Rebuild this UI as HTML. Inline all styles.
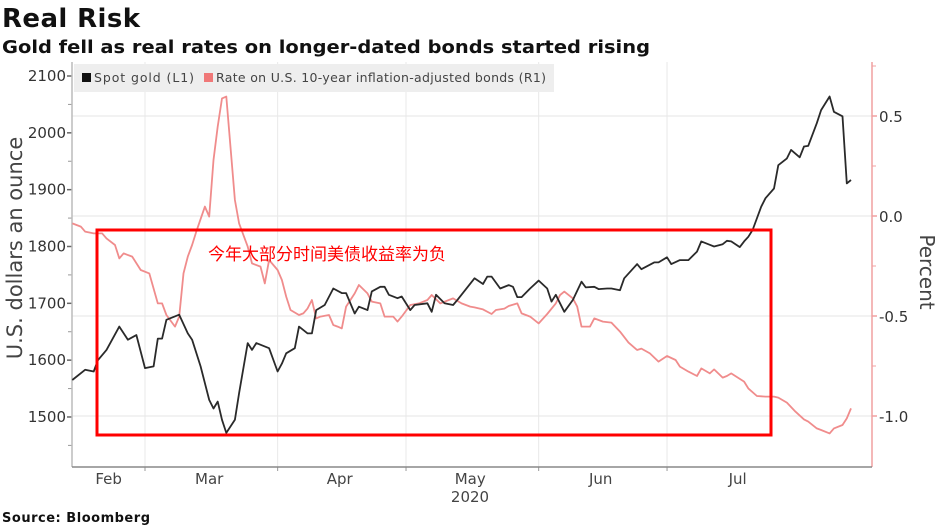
<!DOCTYPE html>
<html><head><meta charset="utf-8">
<style>
body{margin:0;background:#fff;}
svg{display:block;font-family:"DejaVu Sans","Noto Sans CJK SC",sans-serif;}
</style></head>
<body>
<svg id="chart" width="938" height="526" viewBox="0 0 938 526">
<text x="2" y="27" font-size="26" font-weight="bold" fill="#111" textLength="138">Real Risk</text>
<text x="2" y="53" font-size="18" font-weight="bold" fill="#111" textLength="648" lengthAdjust="spacingAndGlyphs">Gold fell as real rates on longer-dated bonds started rising</text>
<g id="grid"></g>
<g id="axes"></g>
<g>
<rect x="74" y="64" width="480" height="28" fill="#eeeeee"/>
<rect x="82" y="73" width="9" height="9" fill="#111"/>
<text x="94" y="82" font-size="12.5" fill="#444" textLength="100">Spot gold (L1)</text>
<rect x="204" y="73" width="9" height="9" fill="#f07878"/>
<text x="216" y="82" font-size="12.5" fill="#444" textLength="330">Rate on U.S. 10-year inflation-adjusted bonds (R1)</text>
</g>
<g id="series"></g>
<rect x="97" y="230" width="674" height="205" fill="none" stroke="#ff0000" stroke-width="3"/>
<text x="208" y="260" font-size="17" fill="#ff0000" font-family="Noto Sans CJK SC, sans-serif">今年大部分时间美债收益率为负</text>
<text transform="translate(22,248) rotate(-90)" text-anchor="middle" font-size="21" fill="#444">U.S. dollars an ounce</text>
<text transform="translate(920,272) rotate(90)" text-anchor="middle" font-size="20" fill="#444">Percent</text>
<text x="470" y="502" text-anchor="middle" font-size="15" fill="#444">2020</text>
<text x="2" y="522" font-size="13" font-weight="bold" fill="#111" textLength="148">Source: Bloomberg</text>
</svg>
<script>
const goldDays=[43,46,48,49,51,54,56,58,60,62,63,64,65,68,70,71,73,75,76,77,78,79,81,82,84,85,86,89,91,92,93,95,96,98,99,100,102,104,106,107,109,110,112,113,115,116,117,119,120,122,123,126,127,128,130,132,133,
137,139,140,141,143,145,146,147,148,150,152,154,155,156,158,160,162,163,165,166,168,169,171,172,175,176,179,180,182,183,185,187,189,190,192,193,195,196,197,199,200,201,202,204,205,207,208,210,211,213,214,215,217,218,220,221,223,224,225];
const goldValues=[1565,1583,1580,1600,1618,1659,1636,1644,1586,1589,1638,1638,1671,1680,1647,1636,1589,1530,1515,1527,1495,1472,1495,1542,1630,1618,1630,1621,1580,1594,1612,1621,1659,1647,1647,1688,1697,1726,1718,1718,1682,1694,1688,1721,1729,1729,1715,1709,1712,1688,1697,1700,1685,1715,1700,1697,1706,
1744,1734,1747,1747,1726,1732,1729,1711,1711,1726,1740,1726,1703,1715,1685,1706,1738,1728,1729,1725,1726,1726,1723,1744,1769,1760,1772,1772,1781,1769,1776,1776,1791,1809,1803,1800,1804,1810,1809,1799,1809,1817,1829,1870,1885,1902,1943,1955,1970,1957,1976,1977,2017,2040,2064,2037,2029,1911,1917];
const rateDays=[43,45,46,48,50,51,53,54,55,57,59,61,63,64,65,67,68,69,70,71,72,74,75,76,77,78,79,81,82,84,85,87,88,89,91,92,93,94,96,97,98,99,100,101,103,104,105,106,107,109,110,112,113,115,116,118,119,120,122,124,126,127,129,131,132,134,136,
137,139,141,142,144,145,147,148,150,152,154,156,157,158,160,161,162,164,165,167,169,171,173,175,176,178,180,182,184,185,187,189,190,192,193,195,196,197,200,201,203,205,207,208,210,212,214,215,217,218,220,221,223,224,225];
const rateValues=[-0.037,-0.053,-0.078,-0.087,-0.087,-0.112,-0.145,-0.212,-0.187,-0.203,-0.27,-0.287,-0.437,-0.437,-0.495,-0.553,-0.503,-0.287,-0.203,-0.145,-0.078,0.047,-0.003,0.28,0.447,0.588,0.597,0.08,-0.037,-0.153,-0.237,-0.253,-0.337,-0.22,-0.27,-0.32,-0.403,-0.47,-0.495,-0.487,-0.462,-0.42,-0.512,-0.503,-0.495,-0.545,-0.553,-0.562,-0.453,-0.387,-0.345,-0.387,-0.428,-0.437,-0.503,-0.503,-0.528,-0.503,-0.445,-0.437,-0.42,-0.395,-0.437,-0.42,-0.412,-0.437,-0.453,
-0.457,-0.467,-0.49,-0.47,-0.463,-0.45,-0.437,-0.487,-0.503,-0.537,-0.49,-0.437,-0.395,-0.378,-0.412,-0.453,-0.553,-0.553,-0.512,-0.528,-0.533,-0.578,-0.633,-0.67,-0.663,-0.687,-0.728,-0.7,-0.72,-0.753,-0.778,-0.8,-0.762,-0.787,-0.767,-0.808,-0.8,-0.787,-0.828,-0.862,-0.9,-0.903,-0.903,-0.908,-0.933,-0.978,-1.017,-1.028,-1.062,-1.07,-1.087,-1.062,-1.045,-1.012,-0.962];
const goldTicks=[1500,1600,1700,1800,1900,2000,2100];
const rateTicks=[-1.0,-0.5,0.0,0.5];
const rateTickLabels=["-1.0","-0.5","0.0","0.5"];
const monthStarts=[60,91,121,152,182];
const monthLabels=["Feb","Mar","Apr","May","Jun","Jul"];
const monthLabelDays=[51.5,75,105.5,136,166.5,198.5];

const NS="http://www.w3.org/2000/svg";
const L=72,R=872,T=62,B=467;
const xS=d=>145+(d-60)*4.279;
const yG=v=>76+(2100-v)*0.5683;
const yR=v=>216-v*200;
function mk(tag,attrs,parent){const e=document.createElementNS(NS,tag);for(const k in attrs)e.setAttribute(k,attrs[k]);parent.appendChild(e);return e;}
const grid=document.getElementById('grid'),axes=document.getElementById('axes'),series=document.getElementById('series');

rateTicks.forEach((v,i)=>{
  const g=mk('line',{x1:L,x2:R,y1:yR(v),y2:yR(v),stroke:'#e6e6e6','stroke-width':1},grid);
  
  
  const t=mk('line',{x1:R,x2:R+5,y1:yR(v),y2:yR(v),stroke:'#f0a0a0','stroke-width':1.5},axes);
  
  
  const m=mk('line',{x1:R,x2:R+4,y1:yR(v+0.25),y2:yR(v+0.25),stroke:'#f0a0a0','stroke-width':1},axes);
  
  
  const tx=mk('text',{x:R+7,y:yR(v)+6,'font-size':15,fill:'#333'},axes);
  tx.textContent=rateTickLabels[i];
  
  
});
monthStarts.forEach(d=>{
  const g=mk('line',{x1:xS(d),x2:xS(d),y1:T,y2:B,stroke:'#e8e8e8','stroke-width':1},grid);
  
  
  const t=mk('line',{x1:xS(d),x2:xS(d),y1:B,y2:B+4,stroke:'#999','stroke-width':1},axes);
  
  
});
monthLabels.forEach((m,i)=>{
  const tx=mk('text',{x:xS(monthLabelDays[i]),y:484,'text-anchor':'middle','font-size':15,fill:'#444'},axes);
  tx.textContent=m;
  
  
});
goldTicks.forEach(v=>{
  const t=mk('line',{x1:L-5,x2:L,y1:yG(v),y2:yG(v),stroke:'#666','stroke-width':1.5},axes);
  
  
  const m=mk('line',{x1:L-4,x2:L,y1:yG(v-50),y2:yG(v-50),stroke:'#999','stroke-width':1},axes);
  
  
  const tx=mk('text',{x:L-6,y:yG(v)+5,'text-anchor':'end','font-size':15,fill:'#333'},axes);
  tx.textContent=v;
  
  
});
const la=mk('line',{x1:L,x2:L,y1:T,y2:B,stroke:'#bbb','stroke-width':1.5},axes);


const ra=mk('line',{x1:R,x2:R,y1:T,y2:B,stroke:'#f0a0a0','stroke-width':1.5},axes);


const ba=mk('line',{x1:L,x2:R,y1:B,y2:B,stroke:'#888','stroke-width':1.5},axes);



function pts(days,vals,f){const n=Math.min(days.length,vals.length);const p=[];for(let i=0;i<n;i++)p.push(xS(days[i]).toFixed(1)+','+f(vals[i]).toFixed(1));return p.join(' ');}
const rl=mk('polyline',{points:pts(rateDays,rateValues,yR),fill:'none',stroke:'#f08c8c','stroke-width':1.8,'stroke-linejoin':'round'},series);


const gl=mk('polyline',{points:pts(goldDays,goldValues,yG),fill:'none',stroke:'#2a2a2a','stroke-width':1.8,'stroke-linejoin':'round'},series);


</script>
</body></html>
